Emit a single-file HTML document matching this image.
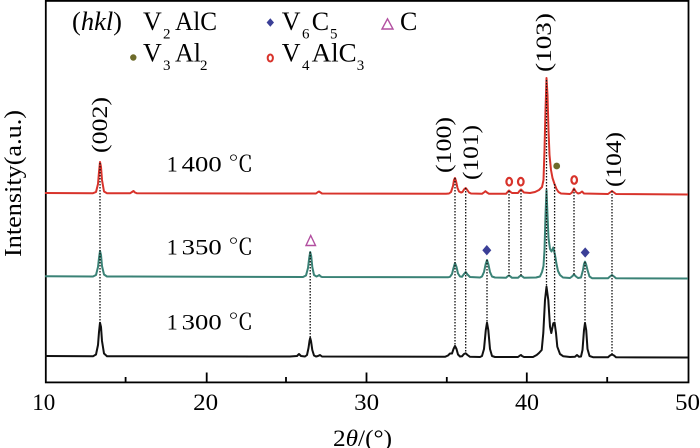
<!DOCTYPE html>
<html><head><meta charset="utf-8"><style>
html,body{margin:0;padding:0;background:#fff;}
svg{display:block;}
text{font-family:"Liberation Serif","Times New Roman",Times,serif;fill:#000;}
text.deg{font-family:"Liberation Serif","Noto Serif CJK SC","Noto Sans CJK SC",serif;}
</style></head><body>
<svg width="700" height="448" viewBox="0 0 700 448" xmlns="http://www.w3.org/2000/svg" font-family="Liberation Serif, serif">
<rect x="0" y="0" width="700" height="448" fill="#fff"/>
<!-- frame -->
<rect x="45.8" y="0.9" width="642.7" height="381.5" fill="none" stroke="#000" stroke-width="1.8"/>
<!-- ticks -->
<g stroke="#000" stroke-width="1.8">
<line x1="206.7" y1="382" x2="206.7" y2="372.5"/>
<line x1="366.5" y1="382" x2="366.5" y2="372.5"/>
<line x1="526.8" y1="382" x2="526.8" y2="372.5"/>
<line x1="125.6" y1="382" x2="125.6" y2="377"/>
<line x1="286" y1="382" x2="286" y2="377"/>
<line x1="446.8" y1="382" x2="446.8" y2="377"/>
<line x1="607.2" y1="382" x2="607.2" y2="377"/>
</g>
<!-- tick labels -->
<g font-size="23" text-anchor="middle">
<text x="43.7" y="410" textLength="23" lengthAdjust="spacingAndGlyphs">10</text>
<text x="205.6" y="410" textLength="25" lengthAdjust="spacingAndGlyphs">20</text>
<text x="366.7" y="410" textLength="25" lengthAdjust="spacingAndGlyphs">30</text>
<text x="527" y="410" textLength="24" lengthAdjust="spacingAndGlyphs">40</text>
<text x="687.5" y="410" textLength="25" lengthAdjust="spacingAndGlyphs">50</text>
</g>
<text x="333" y="446" font-size="23" textLength="59" lengthAdjust="spacingAndGlyphs">2<tspan font-style="italic">θ</tspan>/(°)</text>
<text transform="translate(21,183.5) rotate(-90)" font-size="24" text-anchor="middle" textLength="147" lengthAdjust="spacingAndGlyphs">Intensity(a.u.)</text>

<!-- curves -->
<polyline fill="none" stroke="#111" stroke-width="2" stroke-linejoin="round" points="45,356 93,356.3 96,354.5 98,345 99,332 100,322.7 101,327 102,341 104,353.5 107,356.2 290,356.5 297,356 299,354 301,356 305,356.5 307,355 308.5,348 309.5,341 310.2,338 311,341 312.3,350 314,355.5 316,356.5 318,356 320,355 322,356.5 445,356.8 448,355.5 450,353.5 452,353.5 453.5,349 455,346 456.5,349 458,354.5 460,356.5 462,356.3 464,354 465.7,353.3 467.5,355 470,356.8 480,357 482,356 484,349 485.8,330 487,322.7 488.3,330 490,349 492,356 495,357 518,357 520,355.5 521,355 522,356 524,357 533,357 536.7,355 539,353 541.7,350 543.3,333 545,300 546.5,286.7 548.3,300 550,326.7 551.3,333 553.3,323.3 554.6,322.7 556,333 557.3,346.7 560,354 563.3,356.3 570,357 575,356.8 577,355 579,356.8 581,356.5 582.5,350 584,330 585,323 586.2,330 587.5,349 589.5,356 593,357.2 608,357.3 610,355.5 612,354.5 614,355.5 616,357.3 688,357.5"/>
<polyline fill="none" stroke="#3a8276" stroke-width="2" stroke-linejoin="round" points="45,276.3 93,276.5 96,275 98,267 99,258 100,251 101,255 102,266 104,274.5 107,276.5 303,277 306,275.5 308,268 309.2,258 310.2,252 311.2,256 312.3,267 314,275 316.5,276.5 318,275.8 319.3,275 320.5,276.3 322,277 448,277.3 450,276.8 452,274 453.5,268 455,263 456.5,267 458,273.5 460,276.5 462,276.8 464,274 465.7,272 467.5,274.5 470,277 480,277.5 482,276.5 484,272 485.7,264 487,260 488.3,264 490,272 492,276.5 495,277.5 506,277.8 508,276 509,275.5 510,276.2 512,277.8 518,277.8 520,276 521,275.5 522,276.2 524,277.7 536,277.5 540,276.5 542,272 543.5,266 544.5,250 545.5,215 546.5,190 547.5,215 548.5,238 550,249 551.5,251.5 553.3,247.5 555,255 556.5,264 558,271 560,275 563,277.5 570,278 572,276.5 574,274.5 576,276.5 578,278 581,277.5 583,270 584,264 585,261.7 586,264 587.5,270 589.5,276.5 592,278.2 608,278.3 610,276.5 612,275 614,276.5 616,278.3 688,278.5"/>
<polyline fill="none" stroke="#d8332b" stroke-width="2" stroke-linejoin="round" points="45,193 93,193.2 96,192 98,184 99,172 100,162 101,167 102,180 104,191.5 107,193.2 130,193.3 132,192 133.5,191 135,192.5 137,193.3 300,193.5 316,193.5 318,192 319,191.5 320.5,192.5 322,193.5 446,193.8 449,193.5 451,192 453,186 454,180 455,178 456,181 457.5,188 459,191.5 461,192.5 462.5,192 464,189.5 465.7,188 467.3,190 469,192.5 471,193.5 482,193.8 484.5,192 485.5,191.2 487,192.5 489,193.8 506,193.8 508,191.5 509,190.5 510,191.5 512,193 518,193 519.5,191 521,189.5 522.5,191 524,192.5 530,193 535,192 539,190 542,187 543.5,180 544.5,150 545.5,110 546.5,78 547.5,95 548.5,130 549.5,155 551,170 552.5,178 554.5,184 556.5,189 558.5,192 561,193.5 570,194 572,192.5 574,188.5 576,192 578,193.5 580,193 582,191.5 584,193.5 608,194 610,192.5 612,191 614,192.5 616,194 688,194.5"/>

<!-- dotted guide lines -->
<g stroke="#111" stroke-width="1.3" stroke-dasharray="1.5,1.5">
<line x1="100" y1="163" x2="100" y2="323"/>
<line x1="310.2" y1="252" x2="310.2" y2="338"/>
<line x1="455" y1="178" x2="455" y2="346"/>
<line x1="465.7" y1="188" x2="465.7" y2="353.5"/>
<line x1="487" y1="260" x2="487" y2="323"/>
<line x1="509" y1="191" x2="509" y2="276"/>
<line x1="521" y1="190" x2="521" y2="276"/>
<line x1="546.5" y1="80" x2="546.5" y2="287"/>
<line x1="554.6" y1="184" x2="554.6" y2="323"/>
<line x1="574" y1="189" x2="574" y2="275"/>
<line x1="585" y1="262" x2="585" y2="323"/>
<line x1="612" y1="191" x2="612" y2="355"/>
</g>

<!-- peak labels -->
<g font-size="22" text-anchor="middle">
<text transform="translate(107,125) rotate(-90)" textLength="56" lengthAdjust="spacingAndGlyphs">(002)</text>
<text transform="translate(451,145) rotate(-90)" textLength="56" lengthAdjust="spacingAndGlyphs">(100)</text>
<text transform="translate(478,152.5) rotate(-90)" textLength="55" lengthAdjust="spacingAndGlyphs">(101)</text>
<text transform="translate(551,42.5) rotate(-90)" textLength="59" lengthAdjust="spacingAndGlyphs">(103)</text>
<text transform="translate(621,159.5) rotate(-90)" textLength="55" lengthAdjust="spacingAndGlyphs">(104)</text>
</g>

<!-- temperature labels -->
<g font-size="22">
<text x="166.7" y="171.7">1</text>
<text x="181.7" y="171.7" textLength="40" lengthAdjust="spacingAndGlyphs">400</text>
<text class="deg" x="228.3" y="171.7" textLength="25" lengthAdjust="spacingAndGlyphs">℃</text>
<text x="166.7" y="254.3">1</text>
<text x="181.7" y="254.3" textLength="40" lengthAdjust="spacingAndGlyphs">350</text>
<text class="deg" x="228.3" y="254.3" textLength="25" lengthAdjust="spacingAndGlyphs">℃</text>
<text x="166.7" y="329.3">1</text>
<text x="181.7" y="329.3" textLength="40" lengthAdjust="spacingAndGlyphs">300</text>
<text class="deg" x="228.3" y="329.3" textLength="25" lengthAdjust="spacingAndGlyphs">℃</text>
</g>

<!-- markers on data -->
<polygon points="310.7,235.5 306,245.5 315.5,245.5" fill="none" stroke="#b24fa0" stroke-width="1.4"/>
<polygon points="486.8,245 491.3,250.2 486.8,255.4 482.3,250.2" fill="#3b3f97"/>
<polygon points="585.2,247.4 589.7,252.5 585.2,257.6 580.7,252.5" fill="#3b3f97"/>
<circle cx="556.7" cy="166" r="3.4" fill="#6d6b2b"/>
<g fill="none" stroke="#d8332b" stroke-width="2.2">
<ellipse cx="509.2" cy="181.7" rx="2.8" ry="3.8"/>
<ellipse cx="520.8" cy="181.7" rx="2.8" ry="3.8"/>
<ellipse cx="574.2" cy="180" rx="2.8" ry="3.8"/>
</g>

<!-- legend -->
<g font-size="26">
<text x="72" y="30" textLength="50" lengthAdjust="spacingAndGlyphs">(<tspan font-style="italic">hkl</tspan>)</text>
<text x="143" y="30">V</text>
<text x="163" y="38.3" font-size="15">2</text>
<text x="175" y="30" textLength="42" lengthAdjust="spacingAndGlyphs">AlC</text>
<text x="281.7" y="30">V</text>
<text x="302" y="38.3" font-size="15">6</text>
<text x="311.7" y="30">C</text>
<text x="330" y="38.3" font-size="15">5</text>
<text x="400" y="30">C</text>
<text x="143" y="61.5">V</text>
<text x="163" y="70" font-size="15">3</text>
<text x="175" y="61.5">Al</text>
<text x="200" y="70" font-size="15">2</text>
<text x="281.7" y="61.5">V</text>
<text x="302" y="70" font-size="15">4</text>
<text x="311.7" y="61.5" textLength="45" lengthAdjust="spacingAndGlyphs">AlC</text>
<text x="356.7" y="70" font-size="15">3</text>
</g>
<polygon points="270.3,18.3 274,22.5 270.3,26.7 266.6,22.5" fill="#3b3f97"/>
<polygon points="387.5,18.8 382,29 393,29" fill="none" stroke="#b24fa0" stroke-width="1.4"/>
<circle cx="133.3" cy="57.5" r="3.2" fill="#6d6b2b"/>
<ellipse cx="270.3" cy="58" rx="2.6" ry="3.5" fill="none" stroke="#d8332b" stroke-width="2"/>
</svg>
</body></html>
